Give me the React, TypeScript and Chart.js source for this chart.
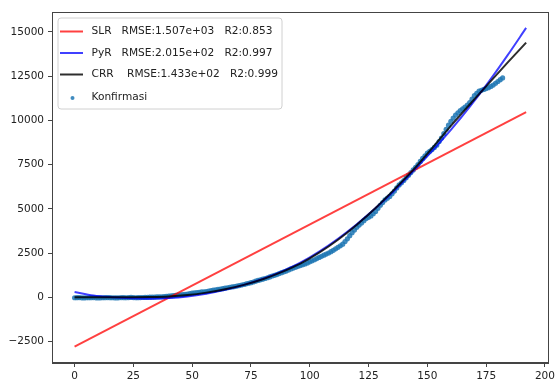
import React, { useEffect, useRef } from 'react';
import { Chart, registerables } from 'chart.js';
Chart.register(...registerables);

const xTicks = [0, 25, 50, 75, 100, 125, 150, 175, 200];
const yTicks = [-2500, 0, 2500, 5000, 7500, 10000, 12500, 15000];

const labels = [
  'SLR   RMSE:1.507e+03   R2:0.853',
  'PyR   RMSE:2.015e+02   R2:0.997',
  'CRR    RMSE:1.433e+02   R2:0.999',
  'Konfirmasi',
];

const slrX = [0, 192];
const slrY = [-2800, 10470];

const fitX = [0, 8, 16, 24, 32, 40, 48, 56, 64, 72, 80, 88, 96, 104, 112, 120, 128, 136, 144, 152, 160, 168, 176, 184, 192];
const pyrY = [300, 100, 0, -60, -80, -50, 40, 200, 420, 700, 1040, 1450, 1950, 2580, 3310, 4130, 5040, 6040, 7130, 8260, 9460, 10760, 12160, 13660, 15230];
const crrY = [0, 0, 0, 0, 10, 40, 120, 260, 450, 700, 1020, 1420, 1900, 2520, 3250, 4100, 5050, 6100, 7200, 8420, 9690, 10900, 12080, 13250, 14400];

// Konfirmasi: one value per day, x = 0..182
const konfY = [
  -30, -25, -20, -35, -40, -30, -30, -25, -20, -35,
  -40, -35, -30, -25, -20, -25, -30, -35, -40, -30,
  -20, -25, -30, -20, -10, -20, -30, -25, -20, -15,
  -10, -5, 0, 5, 10, 15, 20, 25, 30, 45,
  60, 75, 90, 105, 120, 135, 150, 165, 180, 205,
  230, 245, 260, 280, 300, 310, 320, 350, 380, 400,
  420, 440, 460, 485, 510, 535, 560, 580, 600, 630,
  660, 690, 720, 755, 790, 825, 860, 905, 950, 985,
  1020, 1060, 1100, 1150, 1200, 1240, 1280, 1335, 1390, 1435,
  1480, 1540, 1600, 1650, 1700, 1745, 1790, 1835, 1880, 1940,
  2000, 2060, 2120, 2185, 2250, 2315, 2380, 2440, 2500, 2575,
  2650, 2735, 2820, 2910, 3000, 3150, 3300, 3480, 3650, 3800,
  3950, 4080, 4200, 4330, 4450, 4520, 4600, 4720, 4850, 5030,
  5200, 5350, 5500, 5600, 5700, 5850, 6000, 6180, 6350, 6470,
  6600, 6750, 6900, 7050, 7200, 7350, 7500, 7680, 7850, 8000,
  8150, 8250, 8350, 8470, 8600, 8800, 9000, 9250, 9500, 9730,
  9950, 10130, 10300, 10430, 10550, 10650, 10750, 10870, 11000, 11200,
  11400, 11530, 11650, 11700, 11750, 11800, 11850, 11920, 12000, 12100,
  12200, 12300, 12400,
];

const colors = ['rgba(255,0,0,0.75)', 'rgba(0,0,255,0.75)', 'rgba(0,0,0,0.82)', 'rgba(31,119,180,0.85)'];
const FONT = 'DejaVu Sans';

const framePlugin = {
  id: 'frame',
  afterDraw(chart: any) {
    const { ctx, chartArea: a } = chart;
    ctx.save();
    ctx.strokeStyle = '#444';
    ctx.lineWidth = 1;
    ctx.strokeRect(Math.round(a.left) + 0.5, Math.round(a.top) + 0.5, Math.round(a.right - a.left) - 1, Math.round(a.bottom - a.top) - 1);
    // legend
    const x0 = a.left + 6, y0 = a.top + 6, w = 224, h = 91, r = 3;
    ctx.beginPath();
    ctx.moveTo(x0 + r, y0);
    ctx.lineTo(x0 + w - r, y0);
    ctx.quadraticCurveTo(x0 + w, y0, x0 + w, y0 + r);
    ctx.lineTo(x0 + w, y0 + h - r);
    ctx.quadraticCurveTo(x0 + w, y0 + h, x0 + w - r, y0 + h);
    ctx.lineTo(x0 + r, y0 + h);
    ctx.quadraticCurveTo(x0, y0 + h, x0, y0 + h - r);
    ctx.lineTo(x0, y0 + r);
    ctx.quadraticCurveTo(x0, y0, x0 + r, y0);
    ctx.closePath();
    ctx.fillStyle = 'rgba(255,255,255,0.85)';
    ctx.fill();
    ctx.strokeStyle = '#d0d0d0';
    ctx.stroke();
    const rows = [13.5, 35, 56.5, 79];
    ctx.font = `10.6px "${FONT}"`;
    ctx.textBaseline = 'middle';
    chart.data.datasets.forEach((ds: any, i: number) => {
      const cy = y0 + rows[i];
      if (i < 3) {
        ctx.strokeStyle = colors[i];
        ctx.lineWidth = 2;
        ctx.beginPath();
        ctx.moveTo(x0 + 2, cy);
        ctx.lineTo(x0 + 25, cy);
        ctx.stroke();
      } else {
        ctx.fillStyle = colors[3];
        ctx.beginPath();
        ctx.arc(x0 + 14.5, cy + 1, 2, 0, Math.PI * 2);
        ctx.fill();
      }
      ctx.fillStyle = '#222';
      ctx.fillText(ds.label, x0 + 33.5, cy);
    });
    ctx.restore();
  },
};

export default function App() {
  const ref = useRef<HTMLCanvasElement>(null);
  useEffect(() => {
    document.body.style.margin = '0';
    const ctx = ref.current!.getContext('2d')!;
    const tickFont = { family: FONT, size: 10.5 };
    const chart = new Chart(ctx, {
      type: 'scatter',
      data: {
        datasets: [
          {
            label: labels[0],
            data: slrX.map((x, i) => ({ x, y: slrY[i] })),
            showLine: true, borderColor: colors[0], borderWidth: 2, pointRadius: 0, order: 3,
          },
          {
            label: labels[1],
            data: fitX.map((x, i) => ({ x, y: pyrY[i] })),
            showLine: true, borderColor: colors[1], borderWidth: 2, pointRadius: 0,
            cubicInterpolationMode: 'monotone', order: 2,
          },
          {
            label: labels[2],
            data: fitX.map((x, i) => ({ x, y: crrY[i] })),
            showLine: true, borderColor: colors[2], borderWidth: 2, pointRadius: 0,
            cubicInterpolationMode: 'monotone', order: 1,
          },
          {
            label: labels[3],
            data: konfY.map((y, i) => ({ x: i, y })),
            showLine: false, backgroundColor: colors[3], borderWidth: 0, pointRadius: 2.6, order: 4,
          },
        ] as any,
      },
      options: {
        animation: false,
        responsive: false,
        devicePixelRatio: 1,
        layout: { padding: { top: 12, right: 5, left: 0, bottom: 0 } },
        plugins: { legend: { display: false }, tooltip: { enabled: false } },
        scales: {
          x: {
            type: 'linear', min: -9.6, max: 201.6,
            afterBuildTicks: (s: any) => { s.ticks = xTicks.map((v) => ({ value: v })); },
            afterFit: (s: any) => { s.height = 24; },
            ticks: { font: tickFont, color: '#222', padding: 3, maxRotation: 0, autoSkip: false, callback: (v: any) => String(v) },
            grid: { drawOnChartArea: false, tickLength: 4, color: '#444' },
            border: { color: '#444' },
          },
          y: {
            type: 'linear', min: -3720, max: 16130,
            afterBuildTicks: (s: any) => { s.ticks = yTicks.map((v) => ({ value: v })); },
            afterFit: (s: any) => { s.width = 52; },
            ticks: { font: tickFont, color: '#222', padding: 4, autoSkip: false, callback: (v: any) => (v < 0 ? '\u2212' + Math.abs(v) : String(v)) },
            grid: { drawOnChartArea: false, tickLength: 4, color: '#444' },
            border: { color: '#444' },
          },
        },
      },
      plugins: [framePlugin],
    });
    return () => chart.destroy();
  }, []);
  return <canvas ref={ref} width={558} height={387} style={{ display: 'block' }} />;
}
